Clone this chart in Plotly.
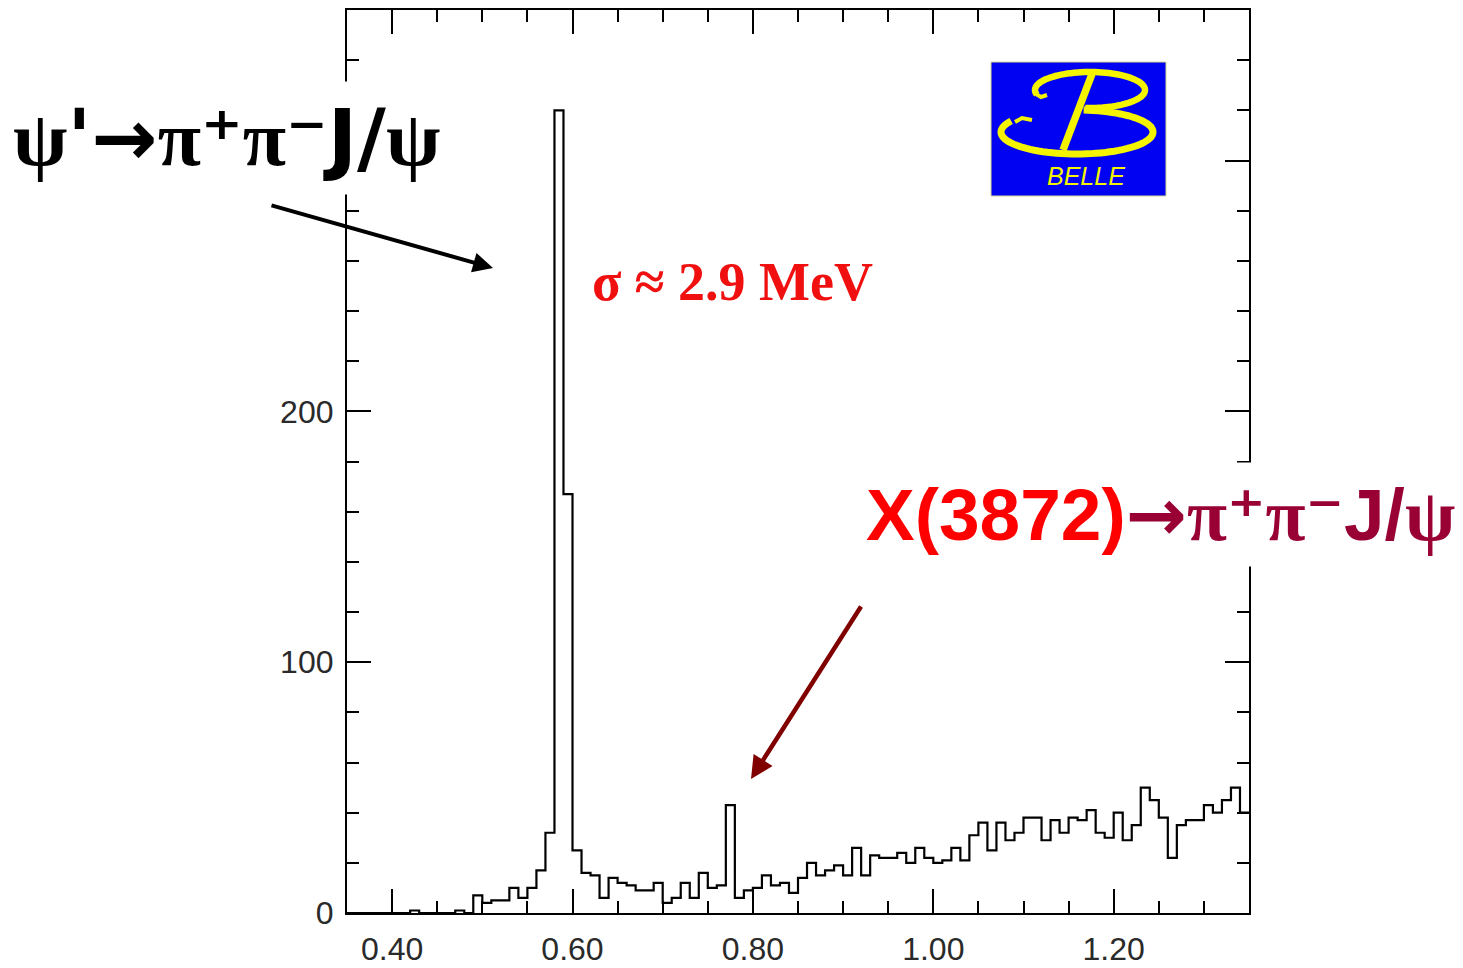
import numpy as np
import plotly.graph_objects as go

# Histogram binning: M(pi+ pi- J/psi) - M(J/psi) in GeV
BIN_START = 0.35
BIN_WIDTH = 0.01

# Entries per 10 MeV bin, 0.35 - 1.35 GeV
counts = [
    0, 0, 0, 0, 0, 0, 0, 1, 0, 0,
    0, 0, 1, 0, 7, 4, 5, 5, 10, 6,
    10, 17, 32, 320, 167, 25, 16, 15, 6, 14,
    12, 11, 9, 9, 12, 4, 6, 12, 6, 16,
    10, 11, 43, 6, 9, 10, 15, 11, 12, 8,
    14, 20, 15, 17, 19, 15, 26, 15, 23, 22,
    22, 24, 20, 26, 22, 20, 21, 26, 21, 31,
    36, 25, 36, 29, 32, 38, 38, 29, 37, 32,
    38, 37, 41, 32, 30, 40, 29, 35, 50, 45,
    38, 22, 35, 37, 37, 43, 40, 45, 50, 40,
]

x_ticks = [0.40, 0.60, 0.80, 1.00, 1.20]
x_tick_text = ["0.40", "0.60", "0.80", "1.00", "1.20"]
# the 300 position keeps its long tick; its label sits under the psi' caption
y_ticks = [0, 100, 200, 300]
y_tick_text = ["0", "100", "200", ""]

X_RANGE = [0.35, 1.35]
Y_RANGE = [0, 360]

# Figure geometry (pixels)
W, H = 1463, 968
ML, MR, MT, MB = 347, 214, 10, 55
PW = W - ML - MR
PH = H - MT - MB


def px(xp):
    return (xp - ML) / PW


def py(yp):
    return (H - MB - yp) / PH


edges = BIN_START + BIN_WIDTH * np.arange(len(counts) + 1)
step_x = list(edges)
step_y = list(counts) + [counts[-1]]

fig = go.Figure()
fig.add_trace(go.Scatter(
    x=step_x, y=step_y, mode="lines", line_shape="hv",
    line=dict(color="black", width=2.2), hoverinfo="skip", showlegend=False,
))

tick_font = dict(family="Liberation Sans, Arial, sans-serif", size=32, color="#2a2a2a")

fig.update_xaxes(
    range=X_RANGE, showgrid=False, zeroline=False, automargin=False,
    showline=True, linecolor="black", linewidth=2.2, mirror="ticks",
    ticks="inside", ticklen=24, tickwidth=2, tickcolor="black",
    tickvals=x_ticks, ticktext=x_tick_text, tickfont=tick_font,
    ticklabelstandoff=6,
    minor=dict(ticks="inside", tick0=0.35, dtick=0.05, ticklen=12,
               tickwidth=2, tickcolor="black", showgrid=False),
)
fig.update_yaxes(
    range=Y_RANGE, showgrid=False, zeroline=False, automargin=False,
    showline=True, linecolor="black", linewidth=2.2, mirror="ticks",
    ticks="inside", ticklen=24, tickwidth=2, tickcolor="black",
    tickvals=y_ticks, ticktext=y_tick_text, tickfont=tick_font,
    ticklabelstandoff=5,
    minor=dict(ticks="inside", tick0=0, dtick=20, ticklen=12,
               tickwidth=2, tickcolor="black", showgrid=False),
)

# ---- Belle logo ----
LOGO = dict(x0=991, x1=1166, y0=62, y1=196)
fig.add_shape(type="rect", xref="paper", yref="paper",
              x0=px(LOGO["x0"]), x1=px(LOGO["x1"]),
              y0=py(LOGO["y1"]), y1=py(LOGO["y0"]),
              fillcolor="#0202f2", line=dict(color="#d8d890", width=1), layer="above")


def ellipse_path(cx, cy, rx, ry, t0, t1, n=80):
    t = np.radians(np.linspace(t0, t1, n))
    xs = cx + rx * np.cos(t)
    ys = cy - ry * np.sin(t)
    pts = [f"{px(a):.5f},{py(b):.5f}" for a, b in zip(xs, ys)]
    return "M" + " L".join(pts)


def poly_path(points):
    pts = [f"{px(a):.5f},{py(b):.5f}" for a, b in points]
    return "M" + " L".join(pts)


yellow = "#f4f400"
# upper bowl
fig.add_shape(type="path", xref="paper", yref="paper", layer="above",
              path=ellipse_path(1090, 90, 55, 18, 195, -95),
              line=dict(color=yellow, width=6.5))
# lower bowl
fig.add_shape(type="path", xref="paper", yref="paper", layer="above",
              path=ellipse_path(1077, 132, 76, 22, 150, 445),
              line=dict(color=yellow, width=7))
# curled ends
fig.add_shape(type="path", xref="paper", yref="paper", layer="above",
              path=poly_path([(1036, 94), (1041, 97), (1047, 95)]),
              line=dict(color=yellow, width=4))
fig.add_shape(type="path", xref="paper", yref="paper", layer="above",
              path=poly_path([(1015, 122), (1022, 118), (1032, 120)]),
              line=dict(color=yellow, width=4))
# slanted stem
fig.add_shape(type="line", xref="paper", yref="paper", layer="above",
              x0=px(1092), y0=py(74), x1=px(1063), y1=py(150),
              line=dict(color=yellow, width=7.5))
fig.add_annotation(xref="paper", yref="paper", x=px(1086), y=py(176),
                   text="BELLE", showarrow=False, xanchor="center", yanchor="middle",
                   font=dict(family="Liberation Sans, Arial, sans-serif", size=25,
                             color=yellow, style="italic"))

# ---- labels ----
SERIF = "font-family:Liberation Serif"
SANS = "font-family:DejaVu Sans"
ARIAL = "font-family:Liberation Sans"

psi2s_label = (
    f"<b><span style='{SERIF}'>ψ</span><span style='{SANS}'>'→</span>"
    f"<span style='{SERIF}'>π</span><span style='{SANS}'>⁺</span>"
    f"<span style='{SERIF}'>π</span><span style='{SANS}'>⁻</span>"
    f"<span style='{SANS}'>J/</span><span style='{SERIF}'>ψ</span></b>"
)
fig.add_annotation(xref="paper", yref="paper", x=px(226), y=py(138),
                   text=psi2s_label, showarrow=False, xanchor="center", yanchor="middle",
                   bgcolor="white", borderpad=10,
                   font=dict(family="Liberation Serif", size=79, color="black"))

x3872_label = (
    f"<b><span style='{ARIAL};color:#ff0000'>X(3872)</span>"
    f"<span style='{SANS};color:#990033'>→</span>"
    f"<span style='{SERIF};color:#990033'>π</span>"
    f"<span style='{SANS};color:#990033'>⁺</span>"
    f"<span style='{SERIF};color:#990033'>π</span>"
    f"<span style='{SANS};color:#990033'>⁻</span>"
    f"<span style='{ARIAL};color:#990033'>J/</span>"
    f"<span style='{SERIF};color:#990033'>ψ</span></b>"
)
fig.add_annotation(xref="paper", yref="paper", x=px(1160), y=py(514),
                   text=x3872_label, showarrow=False, xanchor="center", yanchor="middle",
                   bgcolor="white", borderpad=9,
                   font=dict(family="Liberation Sans", size=73, color="#990033"))

fig.add_annotation(xref="paper", yref="paper", x=px(732), y=py(282),
                   text="<b>σ ≈ 2.9 MeV</b>", showarrow=False,
                   xanchor="center", yanchor="middle",
                   font=dict(family="Liberation Serif, Times New Roman, serif",
                             size=54, color="#f01010"))

# ---- arrows ----
fig.add_annotation(xref="paper", yref="paper", x=px(493), y=py(268),
                   ax=270 - 493, ay=205 - 268, text="", showarrow=True,
                   arrowhead=2, arrowsize=1, arrowwidth=4, arrowcolor="black")
fig.add_annotation(xref="paper", yref="paper", x=px(751), y=py(779),
                   ax=862 - 751, ay=605 - 779, text="", showarrow=True,
                   arrowhead=2, arrowsize=1, arrowwidth=4.5, arrowcolor="#800000")

fig.update_layout(
    width=W, height=H,
    margin=dict(l=ML, r=MR, t=MT, b=MB, pad=0, autoexpand=False),
    paper_bgcolor="white", plot_bgcolor="white",
    showlegend=False,
)

fig.write_html("out.html")
